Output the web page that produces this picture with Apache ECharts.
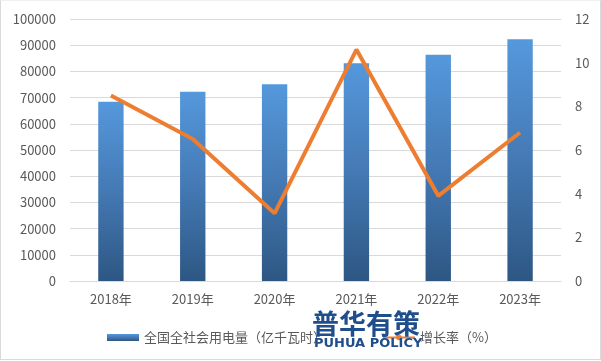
<!DOCTYPE html>
<html>
<head>
<meta charset="utf-8">
<script src="https://cdn.jsdelivr.net/npm/echarts@6/dist/echarts.min.js"></script>
<style>
html,body{margin:0;padding:0;background:#fff;}
#c{width:601px;height:360px;box-sizing:border-box;border:1px solid #d9d9d9;border-top-color:#f0f0f0;}
</style>
</head>
<body>
<div id="c"></div>
<script>
var categories = ['2018年','2019年','2020年','2021年','2022年','2023年'];
var consumption = [68449, 72255, 75110, 83128, 86372, 92241];
var growth = [8.5, 6.5, 3.1, 10.6, 3.9, 6.8];
var seriesNames = ['全国全社会用电量（亿千瓦时）', '增长率（%）'];

var chart = echarts.init(document.getElementById('c'));
var labelStyle = {color:'#595959', fontSize:13, fontFamily:'"Noto Sans CJK SC", "DejaVu Sans", sans-serif'};
chart.setOption({
  animation:false,
  grid:{left:69, right:39, top:18, bottom:78},
  legend:{
    left:101, top:325, itemWidth:32, itemHeight:7, itemGap:56,
    textStyle:{color:'#595959', fontSize:13, fontFamily:'"Noto Sans CJK SC", sans-serif'},
    data:[{name:seriesNames[0], icon:'rect'}, {name:seriesNames[1]}]
  },
  xAxis:{
    type:'category', data:categories,
    axisLine:{lineStyle:{color:'#d9d9d9'}},
    axisTick:{show:false},
    axisLabel:Object.assign({margin:12}, labelStyle)
  },
  yAxis:[{
    type:'value', min:0, max:100000, interval:10000,
    axisLine:{show:false}, axisTick:{show:false},
    axisLabel:Object.assign({margin:14, formatter:function(v){return String(v);}}, labelStyle),
    splitLine:{lineStyle:{color:'#d9d9d9'}}
  },{
    type:'value', min:0, max:12, interval:2,
    axisLine:{show:false}, axisTick:{show:false},
    axisLabel:Object.assign({margin:14, formatter:function(v){return String(v);}}, labelStyle),
    splitLine:{show:false}
  }],
  series:[{
    name:seriesNames[0], type:'bar', data:consumption, barWidth:'31%',
    itemStyle:{color:new echarts.graphic.LinearGradient(0,0,0,1,[
      {offset:0, color:'#5598DC'},{offset:0.5, color:'#4479B4'},{offset:1, color:'#2D5783'}])}
  },{
    name:seriesNames[1], type:'line', yAxisIndex:1, data:growth,
    symbol:'none', lineStyle:{color:'#ED7D31', width:4}, itemStyle:{color:'#ED7D31'}
  }],
  graphic:[
    {type:'text', left:311, top:309, z:100, style:{text:'普华有策', fill:'#1F4E8C', font:'bold 27px "Noto Sans CJK SC", sans-serif'}},
    {type:'text', left:313, top:336, z:100, style:{text:'PUHUA POLICY', fill:'#1F4E8C', font:'bold 13px "DejaVu Sans", sans-serif'}}
  ]
});
</script>
</body>
</html>
